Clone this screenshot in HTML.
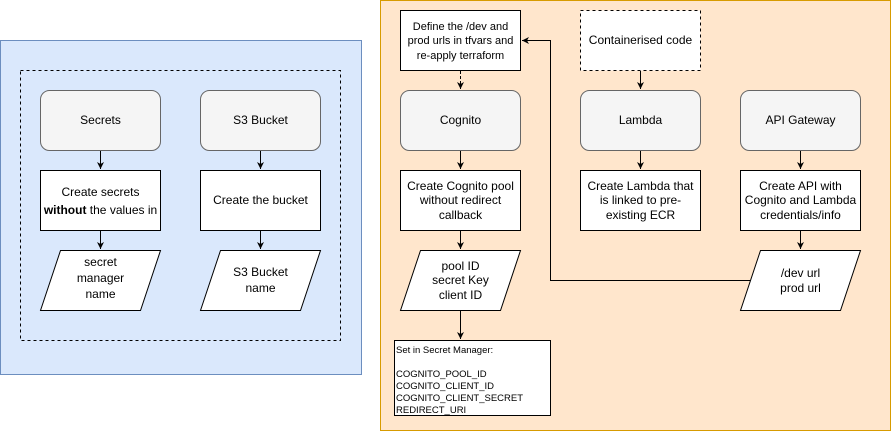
<!DOCTYPE html>
<html><head><meta charset="utf-8"><style>
html,body{margin:0;padding:0;background:#fff;width:891px;height:431px;overflow:hidden}
text{font-family:"Liberation Sans",Helvetica,Arial,sans-serif;font-size:12px;fill:#000}
</style></head><body>
<svg width="891" height="431" viewBox="0 0 891 431" xmlns="http://www.w3.org/2000/svg">
<defs><marker id="a" markerWidth="8" markerHeight="8" refX="7" refY="4" orient="auto" markerUnits="userSpaceOnUse"><path d="M0,0.5 L7,4 L0,7.5 L2,4 Z" fill="#000"/></marker></defs>
<!-- left panel -->
<rect x="0.5" y="40.5" width="361" height="334" fill="#dae8fc" stroke="#6c8ebf"/>
<rect x="20.5" y="70.5" width="320" height="270" fill="none" stroke="#000" stroke-dasharray="3,3"/>
<rect x="40.5" y="90.5" width="120" height="60" rx="9" fill="#f5f5f5" stroke="#666"/>
<text x="100.5" y="124" text-anchor="middle" fill="#333">Secrets</text>
<rect x="200.5" y="90.5" width="120" height="60" rx="9" fill="#f5f5f5" stroke="#666"/>
<text x="260.5" y="124" text-anchor="middle" fill="#333">S3 Bucket</text>
<rect x="40.5" y="170.5" width="120" height="60" fill="#fff" stroke="#000"/>
<text x="100.5" y="196" text-anchor="middle">Create secrets</text>
<text x="100.5" y="214" text-anchor="middle"><tspan font-weight="bold">without</tspan> the values in</text>
<rect x="200.5" y="170.5" width="120" height="60" fill="#fff" stroke="#000"/>
<text x="260.5" y="204" text-anchor="middle">Create the bucket</text>
<path d="M60.5,250.5 H160.5 L140.5,310.5 H40.5 Z" fill="#fff" stroke="#000"/>
<text x="100.5" y="266" text-anchor="middle">secret</text>
<text x="100.5" y="282" text-anchor="middle">manager</text>
<text x="100.5" y="298" text-anchor="middle">name</text>
<path d="M220.5,250.5 H320.5 L300.5,310.5 H200.5 Z" fill="#fff" stroke="#000"/>
<text x="260.5" y="276" text-anchor="middle">S3 Bucket</text>
<text x="260.5" y="292" text-anchor="middle">name</text>
<g stroke="#000" fill="none" marker-end="url(#a)">
<line x1="100.5" y1="151" x2="100.5" y2="169"/>
<line x1="260.5" y1="151" x2="260.5" y2="169"/>
<line x1="100.5" y1="231" x2="100.5" y2="249"/>
<line x1="260.5" y1="231" x2="260.5" y2="249"/>
</g>
<!-- right panel -->
<rect x="380.5" y="0.5" width="510" height="430" fill="#ffe6cc" stroke="#d79b00"/>
<rect x="400.5" y="10.5" width="120" height="60" fill="#fff" stroke="#000"/>
<text x="460.5" y="30" text-anchor="middle" style="font-size:11px">Define the /dev and</text>
<text x="460.5" y="44" text-anchor="middle" style="font-size:11px">prod urls in tfvars and</text>
<text x="460.5" y="59" text-anchor="middle" style="font-size:11px">re-apply terraform</text>
<rect x="580.5" y="10.5" width="120" height="60" fill="#fff" stroke="#000" stroke-dasharray="3,3"/>
<text x="640.5" y="44" text-anchor="middle">Containerised code</text>
<rect x="400.5" y="90.5" width="120" height="60" rx="9" fill="#f5f5f5" stroke="#666"/>
<text x="460.5" y="124" text-anchor="middle" fill="#333">Cognito</text>
<rect x="580.5" y="90.5" width="120" height="60" rx="9" fill="#f5f5f5" stroke="#666"/>
<text x="640.5" y="124" text-anchor="middle" fill="#333">Lambda</text>
<rect x="740.5" y="90.5" width="120" height="60" rx="9" fill="#f5f5f5" stroke="#666"/>
<text x="800.5" y="124" text-anchor="middle" fill="#333">API Gateway</text>
<rect x="400.5" y="170.5" width="120" height="60" fill="#fff" stroke="#000"/>
<text x="460.5" y="190" text-anchor="middle">Create Cognito pool</text>
<text x="460.5" y="204" text-anchor="middle">without redirect</text>
<text x="460.5" y="219" text-anchor="middle">callback</text>
<rect x="580.5" y="170.5" width="120" height="60" fill="#fff" stroke="#000"/>
<text x="640.5" y="190" text-anchor="middle">Create Lambda that</text>
<text x="640.5" y="204" text-anchor="middle">is linked to pre-</text>
<text x="640.5" y="219" text-anchor="middle">existing ECR</text>
<rect x="740.5" y="170.5" width="120" height="60" fill="#fff" stroke="#000"/>
<text x="800.5" y="190" text-anchor="middle">Create API with</text>
<text x="800.5" y="204" text-anchor="middle">Cognito and Lambda</text>
<text x="800.5" y="219" text-anchor="middle">credentials/info</text>
<path d="M420.5,250.5 H520.5 L500.5,310.5 H400.5 Z" fill="#fff" stroke="#000"/>
<text x="460.5" y="270" text-anchor="middle">pool ID</text>
<text x="460.5" y="284" text-anchor="middle">secret Key</text>
<text x="460.5" y="299" text-anchor="middle">client ID</text>
<path d="M760.5,250.5 H860.5 L840.5,310.5 H740.5 Z" fill="#fff" stroke="#000"/>
<text x="800.5" y="277" text-anchor="middle">/dev url</text>
<text x="800.5" y="292" text-anchor="middle">prod url</text>
<rect x="394.5" y="340.5" width="156" height="75" fill="#fff" stroke="#000"/>
<g style="font-size:9.5px">
<text x="396" y="353" style="font-size:9.5px">Set in Secret Manager:</text>
<text x="396" y="377" style="font-size:9.5px">COGNITO_POOL_ID</text>
<text x="396" y="389" style="font-size:9.5px">COGNITO_CLIENT_ID</text>
<text x="396" y="401" style="font-size:9.5px">COGNITO_CLIENT_SECRET</text>
<text x="396" y="413" style="font-size:9.5px">REDIRECT_URI</text>
</g>
<g stroke="#000" fill="none" marker-end="url(#a)">
<line x1="460.5" y1="71" x2="460.5" y2="89" stroke-dasharray="3,2"/>
<line x1="640.5" y1="71" x2="640.5" y2="89"/>
<line x1="460.5" y1="151" x2="460.5" y2="169"/>
<line x1="640.5" y1="151" x2="640.5" y2="169"/>
<line x1="800.5" y1="151" x2="800.5" y2="169"/>
<line x1="460.5" y1="231" x2="460.5" y2="249"/>
<line x1="800.5" y1="231" x2="800.5" y2="249"/>
<line x1="460.5" y1="311" x2="460.5" y2="339"/>
<polyline points="750.5,280.5 550.5,280.5 550.5,40.5 522,40.5"/>
</g>
</svg>
</body></html>
